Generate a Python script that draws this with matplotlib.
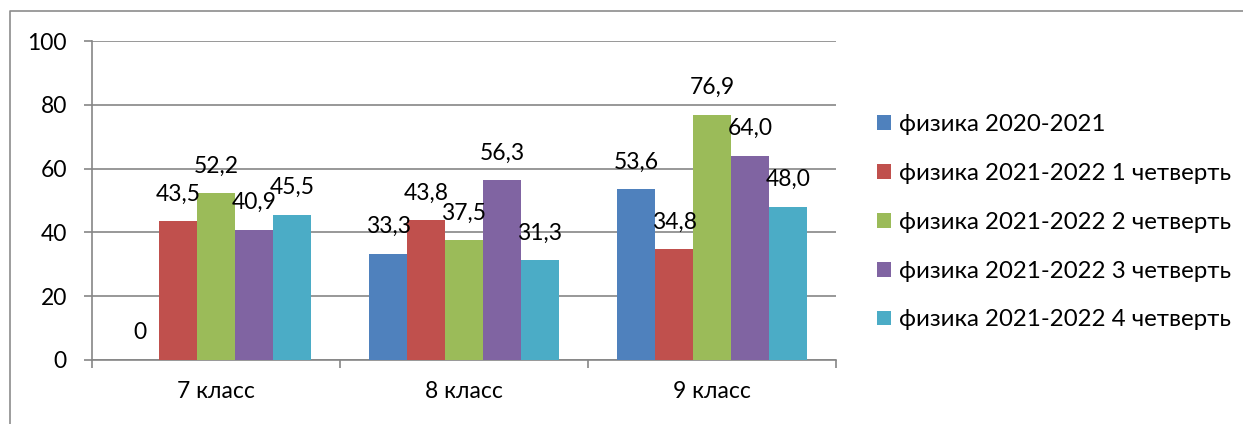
import matplotlib.pyplot as plt
import numpy as np
from matplotlib.patches import Patch
from matplotlib.lines import Line2D

plt.rcParams['font.family'] = ['Lato', 'DejaVu Sans']

classes = ["7 класс", "8 класс", "9 класс"]
series_names = ["физика 2020-2021",
                "физика 2021-2022 1 четверть",
                "физика 2021-2022 2 четверть",
                "физика 2021-2022 3 четверть",
                "физика 2021-2022 4 четверть"]
fiz_2020 = [0, 33.3, 53.6]
q1 = [43.5, 43.8, 34.8]
q2 = [52.2, 37.5, 76.9]
q3 = [40.9, 56.3, 64.0]
q4 = [45.5, 31.3, 48.0]
colors = ["#4F81BD", "#C0504D", "#9BBB59", "#8064A2", "#4BACC6"]

all_series = [fiz_2020, q1, q2, q3, q4]

fig = plt.figure(figsize=(12.43, 4.24), dpi=100)
ax = fig.add_axes([0.074, 0.151, 0.5986, 0.7523])

# outer chart frame (left and top edges only visible)
fx, fy = 9.5/1243, 1 - 11/424
fig.add_artist(Line2D([fx, fx, 1.0], [0.0, fy, fy], transform=fig.transFigure,
                      color="#8c8c8c", lw=1.2))

x = np.arange(len(classes))
w = 0.153
fs = 16.5
for i, vals in enumerate(all_series):
    pos = x + (i - 2) * w
    ax.bar(pos, vals, w, color=colors[i], label=series_names[i], zorder=3)
    for p, v in zip(pos, vals):
        txt = "0" if v == 0 else f"{v:.1f}".replace(".", ",")
        ax.annotate(txt, (p, v), xytext=(0, 19.5), textcoords="offset points",
                    ha="center", va="center", fontsize=fs, zorder=4)

ax.set_ylim(0, 100)
ax.set_xlim(-0.5, 2.5)
ax.set_yticks(range(0, 101, 20))
ax.yaxis.grid(True, color="#868686", lw=1.2, zorder=0)
ax.set_xticks(x)
ax.set_xticklabels(classes)
ax.set_xticks([-0.5, 0.5, 1.5, 2.5], minor=True)
ax.tick_params(axis="x", which="major", length=0, pad=15, labelsize=fs)
ax.tick_params(axis="x", which="minor", length=6, color="#868686", width=1.2)
ax.tick_params(axis="y", length=6, color="#868686", width=1.2, pad=12, labelsize=fs)
for s in ["top", "right"]:
    ax.spines[s].set_visible(False)
for s in ["left", "bottom"]:
    ax.spines[s].set_color("#868686")
    ax.spines[s].set_linewidth(1.2)

handles = [Patch(facecolor=c) for c in colors]
fig.legend(handles, series_names, loc="upper left",
           bbox_to_anchor=(877/1243, 1 - 114/424), frameon=False,
           fontsize=17.3, handlelength=0.58, handleheight=0.58,
           handletextpad=0.35, labelspacing=1.16, borderpad=0, borderaxespad=0)

fig.savefig("out.png", dpi=100)
